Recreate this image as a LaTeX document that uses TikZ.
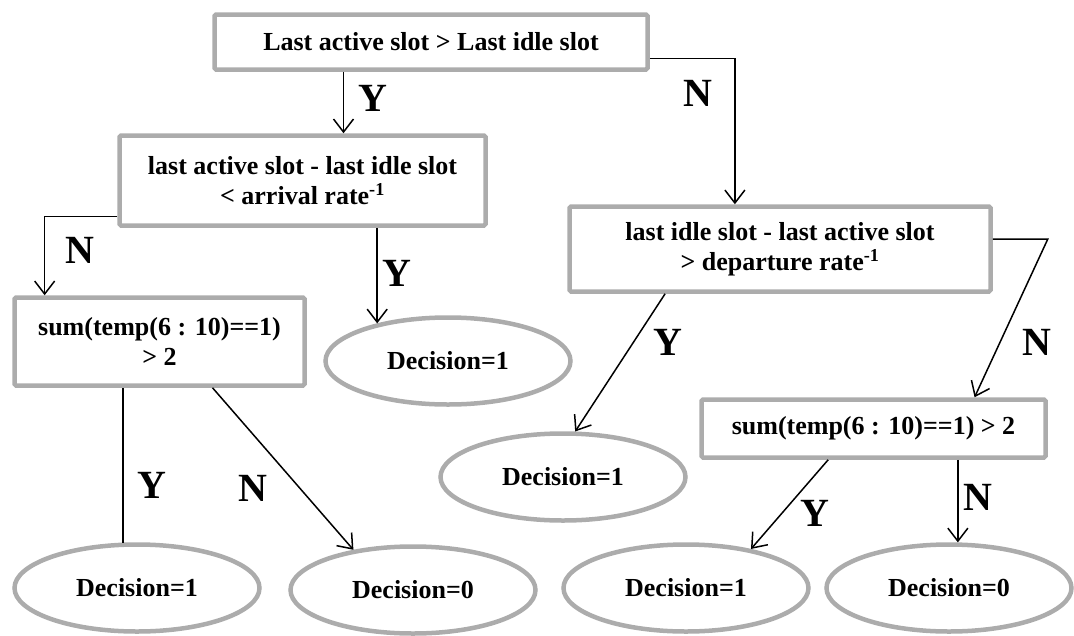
\documentclass[tikz,border=0pt]{standalone}
\usepackage{fontspec}
\setmainfont{Liberation Serif}
\usepackage{tikz}
\usetikzlibrary{%
  arrows.meta,%
  shapes,% wg. ellipse
  calc%
}

\begin{document}
\begin{tikzpicture}[
  x=1pt, y=-1pt,
  font=\fontsize{26}{30}\selectfont\bfseries,
  >={Straight Barb[length=13pt,width=20pt]},
  line width=1.5pt,
  box/.style={rectangle, draw=gray!65, line width=4.5pt, rounded corners=1.5pt, inner sep=0pt, align=center},
  leaf/.style={ellipse, draw=gray!65, line width=4.5pt, inner sep=0pt, minimum width=245pt, minimum height=87pt},
  yn/.style={font=\fontsize{40}{40}\selectfont\bfseries, inner sep=0pt}]

\useasboundingbox (0,0) rectangle (1074,635);

\node[box, minimum width=433pt, minimum height=55pt] (q1) at (431,42) {Last active slot > Last idle slot};
\node[box, minimum width=366pt, minimum height=90pt] (q2) at (302.5,180.5) {last active slot - last idle slot\\< arrival rate\textsuperscript{-1}};
\node[box, minimum width=290pt, minimum height=88pt] (q3) at (159.5,341.5) {sum(temp(6 : 10)==1)\\> 2};
\node[box, minimum width=421pt, minimum height=85pt] (q4) at (780,249) {last idle slot - last active slot\\> departure rate\textsuperscript{-1}};
\node[box, minimum width=344pt, minimum height=58pt] (q5) at (873.5,428.5) {sum(temp(6 : 10)==1) > 2};

\foreach \n/\x/\y/\d in {e1/448/361/1, e2/137/588/1, e3/413/590/0, e4/563/477/1, e5/686/588/1, e6/949/588/0}
  \node[leaf] (\n) at (\x,\y) {Decision=\d};

\foreach \n/\x/\y/\t in {l1/373/98/Y, l2/698/93/N, l3/80/250/N, l4/397/273/Y, l5/152/485/Y, l6/253/488/N, l7/668/342/Y, l8/1037/342/N, l9/815/513/Y, l10/978/497/N}
  \node[yn] (\n) at (\x,\y) {\t};

\draw [->] ($(q1.south west)!.3!(q1.south east)$) coordinate (y1) -- (y1 |- q2.north);
\draw [->] ($(q1.south east)!.22!(q1.north east)$) -| ($(q4.north west)!.394!(q4.north east)$);

\draw [->] ($(q2.south west)!.12!(q2.north west)$) -| ($(q3.north west)!.11!(q3.north east)$);
\draw [->] (q2.south -| e1.152) -- (e1.152);

\draw (q3.south -| e2.107) -- (e2.107);
\draw [->] ($(q3.south west)!.68!(q3.south east)$) -- (e3.146);

\draw [->] ($(q4.south west)!.23!(q4.south east)$) -- (e4.75);
\draw [->] ($(q4.south east)!.61!(q4.north east)$) coordinate (n4) -- (n4 -| q5.north east) -- ($(q5.north west)!.79!(q5.north east)$);

\draw [->] ($(q5.south west)!.37!(q5.south east)$) -- (e5.31);
\draw [->] (q5.south -| e6.79) -- (e6.79);

\end{tikzpicture}
\end{document}
